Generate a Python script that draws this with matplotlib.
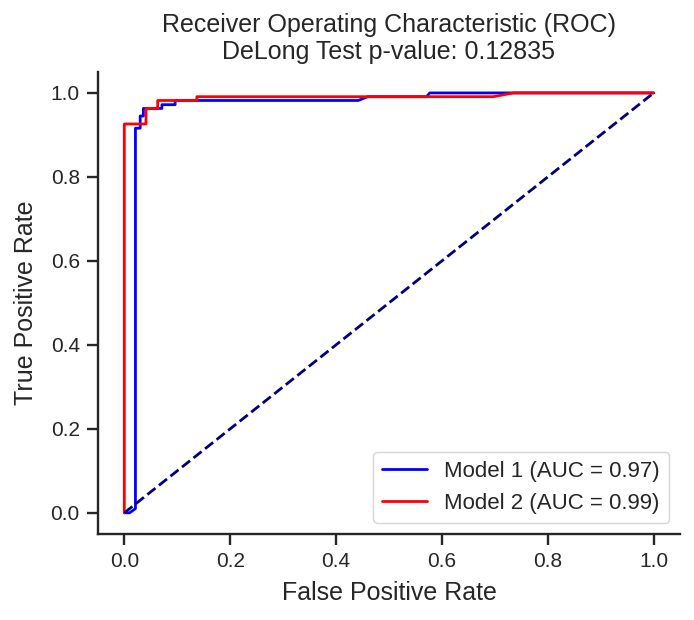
import matplotlib
matplotlib.use("Agg")
import matplotlib.pyplot as plt
import seaborn as sns

sns.set_theme(style="ticks")
plt.rcParams['font.family'] = ['Liberation Sans', 'DejaVu Sans']

fpr1 = [0.0, 0.010, 0.021, 0.021, 0.030, 0.030, 0.036, 0.036, 0.071, 0.071, 0.096, 0.096, 0.442, 0.460, 0.571, 0.577, 1.0]
tpr1 = [0.0, 0.0, 0.010, 0.916, 0.916, 0.945, 0.945, 0.963, 0.963, 0.972, 0.972, 0.982, 0.982, 0.991, 0.991, 1.0, 1.0]
fpr2 = [0.0, 0.0, 0.041, 0.041, 0.063, 0.063, 0.137, 0.137, 0.697, 0.735, 1.0]
tpr2 = [0.0, 0.926, 0.926, 0.963, 0.963, 0.982, 0.982, 0.991, 0.991, 1.0, 1.0]
auc1 = 0.97
auc2 = 0.99
p_value = 0.12835

fig = plt.figure(figsize=(6.94, 6.2), dpi=100)
ax = fig.add_axes([0.141, 0.139, 0.839, 0.745])
ax.plot(fpr1, tpr1, color='blue', lw=2, label=f'Model 1 (AUC = {auc1:.2f})')
ax.plot(fpr2, tpr2, color='red', lw=2, label=f'Model 2 (AUC = {auc2:.2f})')
ax.plot([0, 1], [0, 1], color='navy', lw=2, linestyle='--')
ax.set_xlabel('False Positive Rate', fontsize=18, labelpad=7)
ax.set_ylabel('True Positive Rate', fontsize=18, labelpad=9)
ax.set_title(f'Receiver Operating Characteristic (ROC)\nDeLong Test p-value: {p_value:.5f}', fontsize=18, pad=9)
ax.tick_params(labelsize=15, length=8, width=1.7, pad=5)
for s in ax.spines.values():
    s.set_linewidth(1.7)
ax.legend(loc='lower right', fontsize=16)
sns.despine(ax=ax)
fig.savefig('out.png', dpi=100)
